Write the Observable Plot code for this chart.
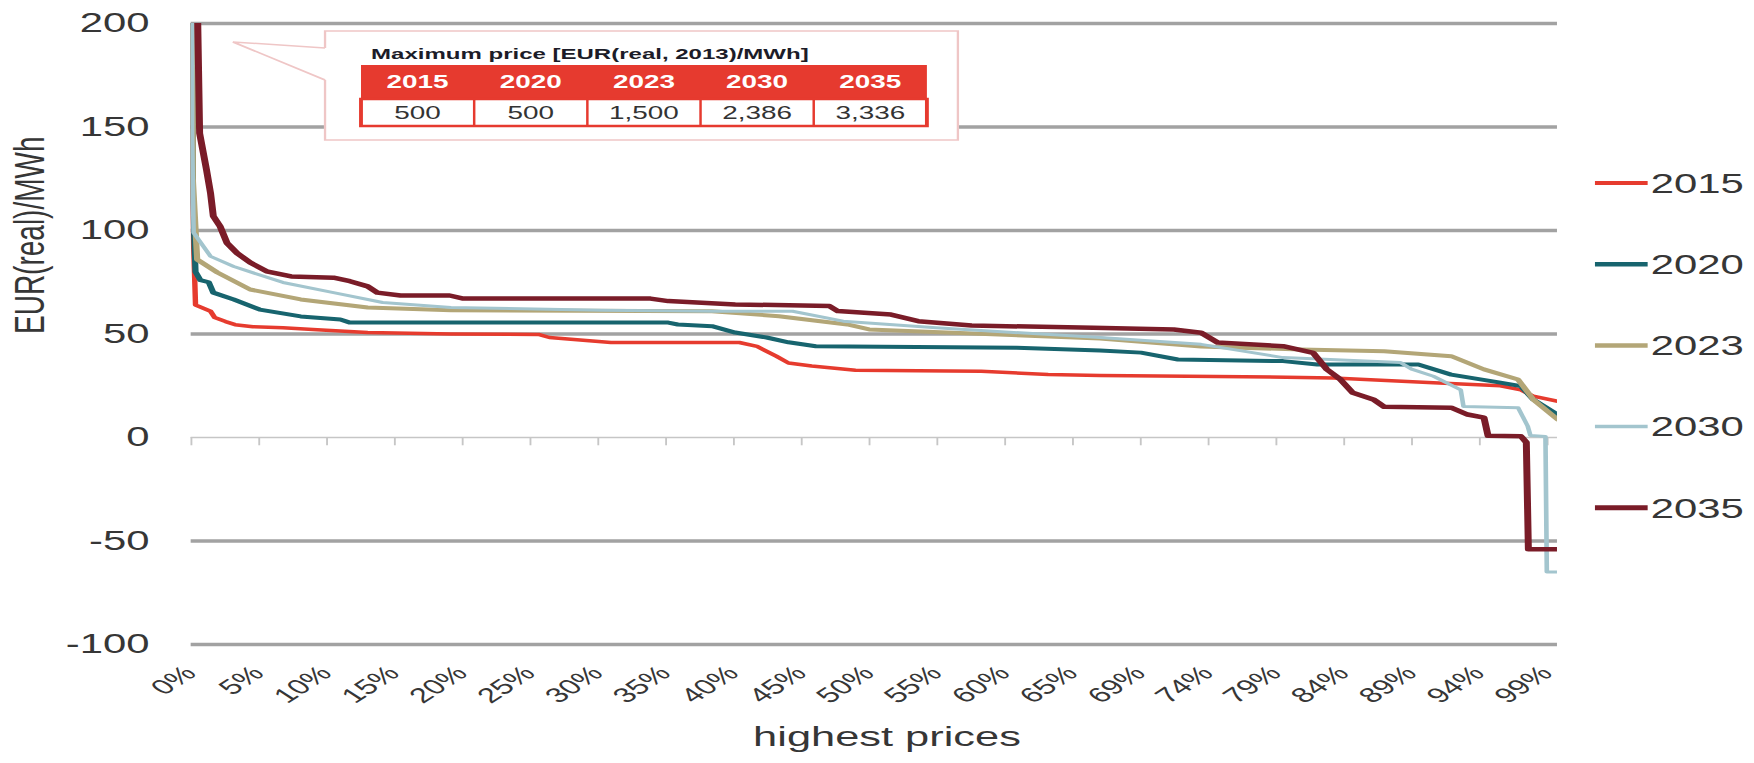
<!DOCTYPE html>
<html><head><meta charset="utf-8">
<script src="https://cdn.jsdelivr.net/npm/d3@7"></script>
<script src="https://cdn.jsdelivr.net/npm/@observablehq/plot@0.6"></script>
<style>
html,body{margin:0;padding:0;background:#fff;overflow:hidden;}
#chart{width:1754px;height:763px;position:relative;overflow:hidden;background:#fff;}
#chart svg{transform:scaleX(1.55);transform-origin:0 0;display:block;max-width:none !important;}
</style></head><body><div id="chart"></div>
<script>
// ---- data ----
const years = ["2015", "2020", "2023", "2030", "2035"];
const colors = ["#e63b2e", "#17646e", "#b3a677", "#a3c5ce", "#7a1c28"];
const maxPriceLabels = ["500", "500", "1,500", "2,386", "3,336"];
const tableTitle = "Maximum price [EUR(real, 2013)/MWh]";

const x2015 = [0, 0.1, 0.3, 1.4, 1.7, 2.5, 3.2, 4.5, 6.7, 9.2, 12.9, 19, 25.4, 26.2, 30.7, 40.1, 41.4, 42.8, 43.7, 45.4, 48.6, 57.8, 62.7, 66.5, 75, 83.6, 90.9, 95.8, 97.3, 98.2, 100];
const y2015 = [500, 106, 64, 61, 58, 56, 54.5, 53.5, 53, 52, 50.7, 50, 49.8, 48.3, 45.9, 45.9, 44, 39.3, 36, 34.5, 32.5, 32, 30.4, 30, 29.5, 28.8, 26.5, 25, 23, 20, 17.5];

const x2020 = [0, 0.1, 0.3, 0.66, 1.27, 1.6, 3.1, 5, 8, 10.9, 11.6, 19, 34.9, 35.6, 38.1, 39.8, 42.1, 43.7, 45.7, 60.4, 66.5, 69.5, 72.2, 79.9, 82.4, 89.8, 92.2, 95.8, 97.3, 98.2, 100];
const y2020 = [500, 118, 80, 76, 75, 70, 66.7, 61.8, 58.5, 57, 55.5, 55.5, 55.5, 54.6, 53.8, 50.7, 48.3, 46, 44.1, 43.4, 42, 41, 37.7, 36.9, 35.3, 35.3, 30.4, 26.5, 24.8, 18.4, 11];

const x2023 = [0, 0.1, 0.42, 1.9, 4.3, 8, 12.9, 19, 38.1, 43, 48, 49.6, 66.5, 73.9, 81.2, 87.3, 92.2, 94.6, 97.1, 98.2, 100];
const y2023 = [1500, 125, 86, 79.7, 71.5, 66.7, 62.8, 61.5, 61, 58.6, 54.6, 52.2, 47.8, 44, 42.5, 41.7, 39.3, 32.9, 28, 18.4, 8.7];

const x2030 = [0, 0.05, 0.16, 1.4, 3.1, 6.7, 10.4, 14, 19, 30, 38.1, 44, 47.7, 54.5, 66.5, 73.9, 79.9, 88.5, 89.3, 90.9, 92.9, 93.1, 97.1, 97.8, 98.0, 99.1, 99.2, 100];
const y2030 = [2386, 145, 99, 87.5, 82.6, 74.9, 70, 65.2, 62.8, 61.5, 61, 61, 56.2, 53, 48.3, 45, 38.6, 36.2, 33, 29.6, 23, 15, 14.4, 5.5, 1, 0.5, -65, -65];

const x2035 = [0, 0.45, 0.6, 1.1, 1.4, 1.6, 2.1, 2.6, 3.35, 4.3, 5.5, 7.3, 10.4, 11.6, 12.9, 13.6, 15.3, 18.9, 19.9, 33.6, 34.9, 39.8, 46.7, 47.3, 51.2, 53.2, 57.1, 66, 71.9, 73.9, 75.1, 79.9, 82.1, 83.1, 84.1, 85, 86.5, 87.3, 92.2, 93.4, 94.6, 94.9, 97.3, 97.7, 97.85, 100];
const y2035 = [3336, 205, 147, 129.5, 118, 107, 102, 94, 89, 84.5, 80.3, 77.8, 77.2, 75.5, 73, 70, 68.6, 68.6, 67.1, 67.1, 65.9, 64.3, 63.5, 61.1, 59.4, 56.2, 54.1, 53, 52.2, 50.6, 45.9, 44.1, 40.9, 32.9, 28, 21.6, 18.4, 14.8, 14.4, 11.1, 9.6, 0.8, 0.6, -2.4, -54, -54];

const yTicks = [-100, -50, 0, 50, 100, 150, 200];
const xTickLabels = ["0%", "5%", "10%", "15%", "20%", "25%", "30%", "35%", "40%", "45%", "50%", "55%", "60%", "65%", "69%", "74%", "79%", "84%", "89%", "94%", "99%"];

// ---- build ----
const seriesX = [x2015, x2020, x2023, x2030, x2035];
const seriesY = [y2015, y2020, y2023, y2030, y2035];
const widths = [3.5, 4, 4, 3, 4.5];
const S = 1.55;                       // horizontal stretch of the original picture
const W = Math.round(1754 / S);
const STEP = 4.963;                   // category-label interval in %
const tickPos = xTickLabels.map((_, i) => i * STEP);
const font = "'Liberation Sans', Arial, sans-serif";
const txt = "#363636";

const lineMarks = years.map((yr, k) => Plot.line(
  seriesX[k].map((x, i) => ({x, y: seriesY[k][i], year: yr})),
  {x: "x", y: "y", stroke: colors[k], strokeWidth: widths[k], strokeLinejoin: "round", clip: true}
));

const plot = Plot.plot({
  width: W, height: 763,
  marginLeft: 123, marginRight: W - 1004.5, marginTop: 23, marginBottom: 119,
  x: {domain: [0, 100], axis: null},
  y: {domain: [-100, 200], axis: null},
  style: {fontFamily: font, background: "white", overflow: "visible"},
  marks: [
    Plot.ruleY(yTicks.filter(d => d !== 0), {stroke: "#a2a2a2", strokeWidth: 3.5}),
    Plot.ruleY([0], {stroke: "#c6c6c6", strokeWidth: 1.6}),
    Plot.ruleX(tickPos, {x: d => d, y1: 0, y2: -4, stroke: "#c6c6c6", strokeWidth: 1.2}),
    Plot.axisY(yTicks, {tickSize: 0, tickPadding: 27, fontSize: 27, color: txt, label: null, tickFormat: d => String(d)}),
    Plot.text(xTickLabels, {x: (d, i) => tickPos[i], frameAnchor: "bottom", dy: 30, dx: 4, rotate: -45, textAnchor: "end", fontSize: 21, fill: txt}),
    Plot.text(["highest prices"], {frameAnchor: "bottom", dy: 101, dx: 8, fontSize: 28, fill: txt}),
    Plot.text(["EUR(real)/MWh"], {frameAnchor: "left", dx: -104, rotate: -90, fontSize: 28, fill: txt}),
    ...lineMarks
  ]
});

const svg = d3.select(plot);

// legend
const leg = svg.append("g").attr("font-family", font).attr("text-anchor", "start");
years.forEach((yr, i) => {
  const cy = 183 + i * 81.2;
  leg.append("line").attr("x1", 1029).attr("x2", 1063).attr("y1", cy).attr("y2", cy)
    .attr("stroke", colors[i]).attr("stroke-width", widths[i] + 0.5);
  leg.append("text").attr("x", 1065).attr("y", cy).attr("dy", "0.36em").attr("text-anchor", "start")
    .attr("font-size", 27).attr("fill", txt).text(yr);
});

// callout table
const red = "#e63a2f";
const pink = "#efc6c6";
const call = svg.append("g").attr("font-family", font);
const bx0 = 209.7, bx1 = 618, by0 = 31, by1 = 140;
call.append("rect").attr("x", bx0).attr("y", by0).attr("width", bx1 - bx0).attr("height", by1 - by0).attr("fill", "white");
call.append("path").attr("d", `M${bx0},48 L${bx0},${by0} L${bx1},${by0} L${bx1},${by1} L${bx0},${by1} L${bx0},80 M${bx0},48 L150.3,42 L${bx0},80`)
  .attr("fill", "none").attr("stroke", pink).attr("stroke-width", 1.5);
call.append("text").attr("x", 239.4).attr("y", 59).attr("text-anchor", "start").attr("font-size", 15.5).attr("font-weight", "bold")
  .attr("fill", "#1c1c28").text(tableTitle);
const tx0 = 232.9, tw = 365.1, cw = tw / years.length;
call.append("rect").attr("x", tx0).attr("y", 65).attr("width", tw).attr("height", 34).attr("fill", red);
call.append("rect").attr("x", tx0).attr("y", 99).attr("width", tw).attr("height", 27).attr("fill", "white")
  .attr("stroke", red).attr("stroke-width", 2.5);
years.forEach((yr, i) => {
  const cx = tx0 + cw * (i + 0.5);
  if (i > 0) call.append("line").attr("x1", tx0 + cw * i).attr("x2", tx0 + cw * i).attr("y1", 99).attr("y2", 126)
    .attr("stroke", red).attr("stroke-width", 1.6);
  call.append("text").attr("x", cx).attr("y", 82).attr("dy", "0.36em").attr("text-anchor", "middle")
    .attr("font-size", 18).attr("font-weight", "bold").attr("fill", "white").text(yr);
  call.append("text").attr("x", cx).attr("y", 112.5).attr("dy", "0.36em").attr("text-anchor", "middle")
    .attr("font-size", 18).attr("fill", "#333").text(maxPriceLabels[i]);
});

document.getElementById("chart").appendChild(plot);
</script>
</body></html>
